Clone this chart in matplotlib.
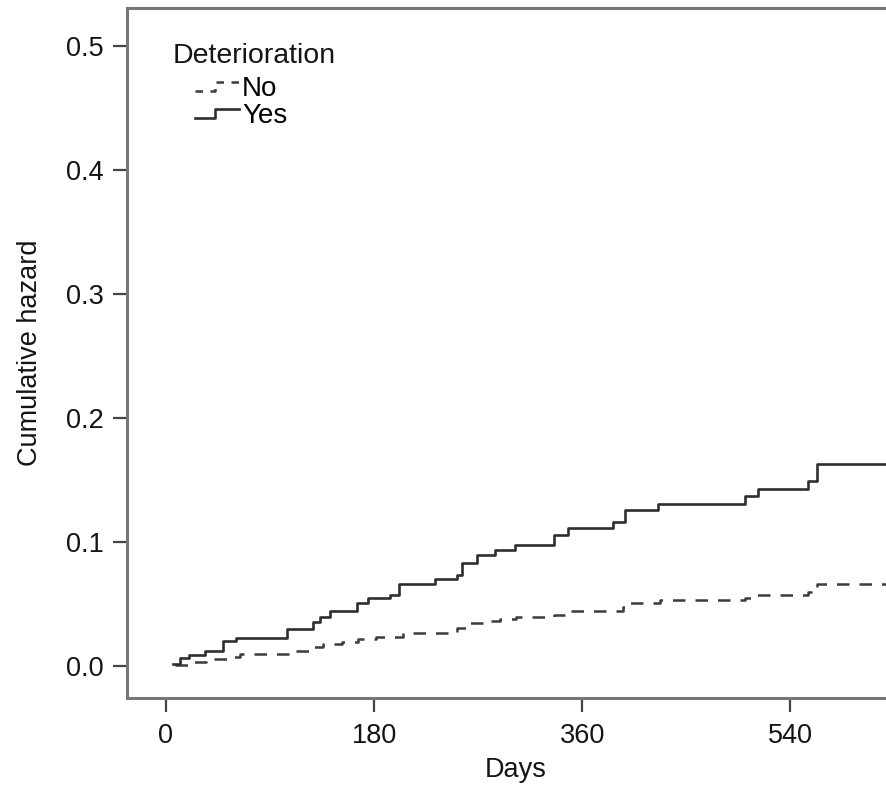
import numpy as np
import matplotlib.pyplot as plt
from matplotlib.lines import Line2D
from matplotlib.legend_handler import HandlerBase

# step data (days, cumulative hazard)
daysYes = [6, 12, 20, 34, 49, 61, 105, 127, 133, 142, 165, 175, 194, 202, 233, 252,
           256, 269, 285, 302, 336, 348, 387, 397, 426, 501, 512, 555, 563, 700]
hazYes = [0.002, 0.0065, 0.009, 0.012, 0.020, 0.0226, 0.030, 0.0355, 0.0395, 0.044,
          0.051, 0.055, 0.057, 0.066, 0.070, 0.073, 0.083, 0.0895, 0.0935, 0.0976,
          0.106, 0.111, 0.116, 0.126, 0.131, 0.137, 0.143, 0.149, 0.163, 0.163]

daysNo = [8, 21, 35, 53, 64, 107, 126, 136, 152, 166, 182, 205, 252, 263, 274, 289,
          303, 336, 347, 395, 401, 427, 501, 511, 555, 563, 700]
hazNo = [0.001, 0.003, 0.0056, 0.0073, 0.0097, 0.012, 0.0153, 0.0177, 0.0194, 0.0218,
         0.0234, 0.0266, 0.0306, 0.0347, 0.0363, 0.0379, 0.0395, 0.041, 0.0444, 0.0476,
         0.051, 0.053, 0.0548, 0.057, 0.0597, 0.066, 0.066]

xTicks = [0, 180, 360, 540]
yTicks = [0.0, 0.1, 0.2, 0.3, 0.4, 0.5]
groupLabels = ['No', 'Yes']


class StepHandler(HandlerBase):
    # legend key drawn as a small step, like the survival plot keys
    def create_artists(self, legend, orig, xd, yd, width, height, fontsize, trans):
        xs = [xd, xd + width * 0.45, xd + width * 0.45, xd + width]
        ys = [yd + height * 0.25, yd + height * 0.25, yd + height * 0.7, yd + height * 0.7]
        ln = Line2D(xs, ys, color=orig.get_color(), lw=orig.get_linewidth(),
                    linestyle=orig.get_linestyle(), transform=trans)
        if orig.get_linestyle() != '-':
            ln.set_dashes((3, 3))
        return [ln]


plt.rcParams['font.family'] = ['Liberation Sans', 'DejaVu Sans']
textCol = '#141414'

W, H = 886, 788
fig = plt.figure(figsize=(W / 100, H / 100), dpi=100)
# axes box runs just past the right edge of the picture
left, right, top, bottom = 127, 905, 8, 698
ax = fig.add_axes([left / W, 1 - bottom / H, (right - left) / W, (bottom - top) / H])

lnNo, = ax.step(daysNo, hazNo, where='post', color='#3c3c3c', lw=1.8, dashes=(5, 4))
lnYes, = ax.step(daysYes, hazYes, where='post', color='#2e2e2e', lw=1.9)

ax.set_xlim(-33.7, (right - 166) / 1.156)
ax.set_ylim(-0.0258, 0.5306)
ax.set_xticks(xTicks)
ax.set_yticks(yTicks)
ax.set_yticklabels(['%.1f' % v for v in yTicks])

for s in ax.spines.values():
    s.set_color('#777777')
    s.set_linewidth(2.2)
ax.tick_params(length=10, width=1.6, color='#444444', labelsize=19.5,
               labelcolor=textCol, pad=8)
ax.tick_params(axis='y', pad=7)

ax.set_xlabel('Days', fontsize=19.5, color=textCol, labelpad=6)
ax.set_ylabel('Cumulative hazard', fontsize=19.5, color=textCol, labelpad=16)

ax.text(0.059, 0.931, 'Deterioration', transform=ax.transAxes, fontsize=20.5,
        color=textCol, va='center', ha='left')
ax.legend([lnNo, lnYes], groupLabels, loc='upper left', bbox_to_anchor=(0.087, 0.902),
          frameon=False, fontsize=20, handlelength=1.6, handletextpad=0.1,
          labelspacing=0.05, borderpad=0, borderaxespad=0,
          handler_map={Line2D: StepHandler()})

fig.savefig('out.png', dpi=100)
